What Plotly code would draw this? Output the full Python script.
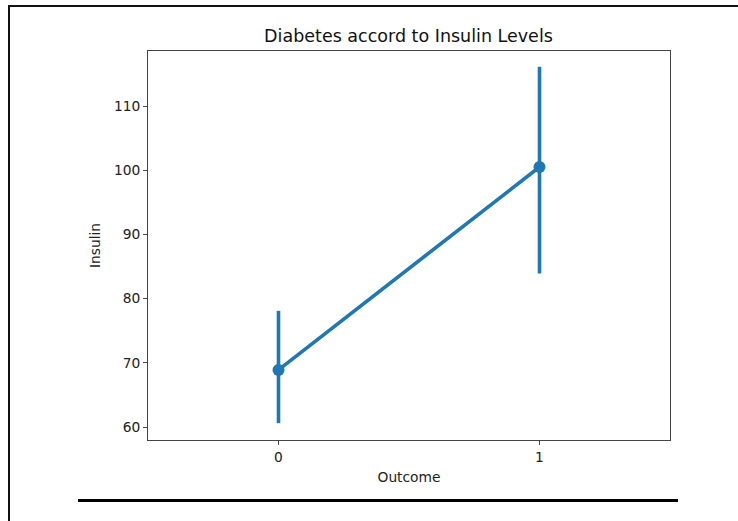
import plotly.graph_objects as go

outcome = [0, 1]
insulin_mean = [68.9, 100.5]
ci_upper = [78.1, 116.1]
ci_lower = [60.6, 83.9]
y_ticks = [60, 70, 80, 90, 100, 110]

err_plus = [u - m for u, m in zip(ci_upper, insulin_mean)]
err_minus = [m - l for m, l in zip(insulin_mean, ci_lower)]

blue = "#1f77b4"
font = "DejaVu Sans"

fig = go.Figure()
fig.add_trace(go.Scatter(
    x=outcome, y=insulin_mean, mode="lines+markers",
    line=dict(color=blue, width=3.6),
    marker=dict(color=blue, size=12),
    error_y=dict(type="data", array=err_plus, arrayminus=err_minus,
                 color=blue, thickness=3.6, width=0),
    showlegend=False,
))

axis_common = dict(showline=True, linecolor="#444", linewidth=1, mirror=True,
                   ticks="outside", ticklen=4, tickcolor="#444", showgrid=False,
                   zeroline=False, tickfont=dict(family=font, size=13.8, color="#222"))

fig.update_layout(
    width=738, height=521,
    margin=dict(l=148, r=68, t=51, b=81),
    paper_bgcolor="white", plot_bgcolor="white",
    title=dict(text="Diabetes accord to Insulin Levels", x=408.5 / 738,
               xanchor="center", y=1 - 36 / 521, yanchor="middle",
               font=dict(family=font, size=17.5, color="#111")),
    xaxis=dict(range=[-0.5, 1.5], tickvals=outcome, ticktext=[str(o) for o in outcome],
               title=dict(text="Outcome", font=dict(family=font, size=13.8, color="#222"), standoff=8),
               **axis_common),
    yaxis=dict(range=[57.98, 118.57], tickvals=y_ticks,
               title=dict(text="Insulin", font=dict(family=font, size=13.8, color="#222"), standoff=10),
               **axis_common),
)

# decorative frame lines around the figure (as in the screenshot)
W, H = 522.0, 389.0
def px(x):
    return (x - 148) / W
def py(y):
    return (440 - y) / H

fig.add_shape(type="line", xref="paper", yref="paper",
              x0=px(8), x1=px(738), y0=py(6), y1=py(6), line=dict(color="#111", width=2))
fig.add_shape(type="line", xref="paper", yref="paper",
              x0=px(9), x1=px(9), y0=py(6), y1=py(521), line=dict(color="#111", width=2))
fig.add_shape(type="line", xref="paper", yref="paper",
              x0=px(78), x1=px(678), y0=py(500.5), y1=py(500.5), line=dict(color="black", width=3))

fig.write_html("out.html")
